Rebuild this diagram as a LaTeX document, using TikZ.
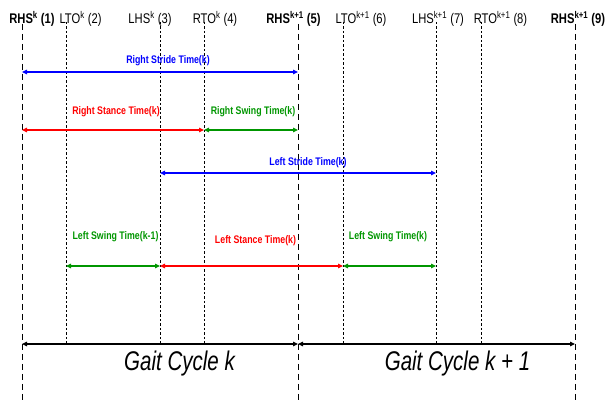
\documentclass[tikz,border=0pt]{standalone}
\usepackage{fontspec}
\setmainfont{Liberation Sans}
\newfontfamily\narrowfont[FakeStretch=0.8]{Liberation Sans}
\newfontfamily\gaitfont[FakeStretch=0.76]{Liberation Sans}
\usetikzlibrary{arrows.meta}
\definecolor{strideblue}{RGB}{0,0,255}
\definecolor{stancered}{RGB}{255,0,0}
\definecolor{swinggreen}{RGB}{0,150,0}
\tikzset{
  heelline/.style={black, line width=0.9pt, dash pattern=on 6pt off 4pt},
  eventline/.style={black, line width=0.5pt, dash pattern=on 2.5pt off 2pt},
  span/.style={line width=1.2pt, {Triangle[length=5pt,width=4.5pt]}-{Triangle[length=5pt,width=4.5pt]}},
  eventlabel/.style={anchor=base, inner sep=0pt, font=\narrowfont\fontsize{14}{16}\selectfont},
  spanlabel/.style={inner sep=0pt, font=\narrowfont\bfseries\fontsize{11}{13}\selectfont},
  gaitlabel/.style={inner sep=0pt, font=\gaitfont\itshape\fontsize{27}{30}\selectfont}
}
\begin{document}
\begin{tikzpicture}[x=1pt,y=-1pt]
\useasboundingbox (0,0) rectangle (608,403);

% gait event positions
\coordinate (e1) at (22,24);
\coordinate (e2) at (66,22);
\coordinate (e3) at (160,22);
\coordinate (e4) at (204,22);
\coordinate (e5) at (298,24);
\coordinate (e6) at (343,22);
\coordinate (e7) at (436,22);
\coordinate (e8) at (481,22);
\coordinate (e9) at (575,24);

% row heights of the interval arrows
\coordinate (row1) at (0,72);
\coordinate (row2) at (0,130);
\coordinate (row3) at (0,173);
\coordinate (row4) at (0,266);
\coordinate (row5) at (0,344);
\coordinate (heelend) at (0,400);
\coordinate (toeend) at (0,344);

% vertical event markers
\foreach \e in {e1,e5,e9}
  \draw[heelline] (\e) -- (\e |- heelend);
\foreach \e in {e2,e3,e4,e6,e7,e8}
  \draw[eventline] (\e) -- (\e |- toeend);

% event labels
\node[eventlabel] (t1) at (32,24)    {\bfseries RHS\textsuperscript{k} (1)};
\node[eventlabel] (t2) at (80.5,24)  {LTO\textsuperscript{k} (2)};
\node[eventlabel] (t3) at (150,24)   {LHS\textsuperscript{k} (3)};
\node[eventlabel] (t4) at (215,24)   {RTO\textsuperscript{k} (4)};
\node[eventlabel] (t5) at (293.5,24) {\bfseries RHS\textsuperscript{k+1} (5)};
\node[eventlabel] (t6) at (361,24)   {LTO\textsuperscript{k+1} (6)};
\node[eventlabel] (t7) at (438,24)   {LHS\textsuperscript{k+1} (7)};
\node[eventlabel] (t8) at (500.5,24) {RTO\textsuperscript{k+1} (8)};
\node[eventlabel] (t9) at (578,24)   {\bfseries RHS\textsuperscript{k+1} (9)};

% right leg intervals
\draw[span, strideblue] (e1 |- row1) -- (e5 |- row1);
\node[spanlabel, text=strideblue] (l1) at (168,61) {Right Stride Time(k)};
\draw[span, stancered] (e1 |- row2) -- (e4 |- row2);
\node[spanlabel, text=stancered] (l2) at (116,112) {Right Stance Time(k)};
\draw[span, swinggreen] (e4 |- row2) -- (e5 |- row2);
\node[spanlabel, text=swinggreen] (l3) at (253,112) {Right Swing Time(k)};

% left leg intervals
\draw[span, strideblue] (e3 |- row3) -- (e7 |- row3);
\node[spanlabel, text=strideblue] (l4) at (308,163) {Left Stride Time(k)};
\draw[span, swinggreen] (e2 |- row4) -- (e3 |- row4);
\node[spanlabel, text=swinggreen] (l5) at (115.5,237) {Left Swing Time(k-1)};
\draw[span, stancered] (e3 |- row4) -- (e6 |- row4);
\node[spanlabel, text=stancered] (l6) at (255.5,240.5) {Left Stance Time(k)};
\draw[span, swinggreen] (e6 |- row4) -- (e7 |- row4);
\node[spanlabel, text=swinggreen] (l7) at (388,237) {Left Swing Time(k)};

% gait cycles
\draw[span, black] (e1 |- row5) -- (e5 |- row5);
\draw[span, black] (e5 |- row5) -- (e9 |- row5);
\node[gaitlabel] (g1) at (179.5,364) {Gait Cycle k};
\node[gaitlabel] (g2) at (457.5,364) {Gait Cycle k + 1};
\end{tikzpicture}
\end{document}
